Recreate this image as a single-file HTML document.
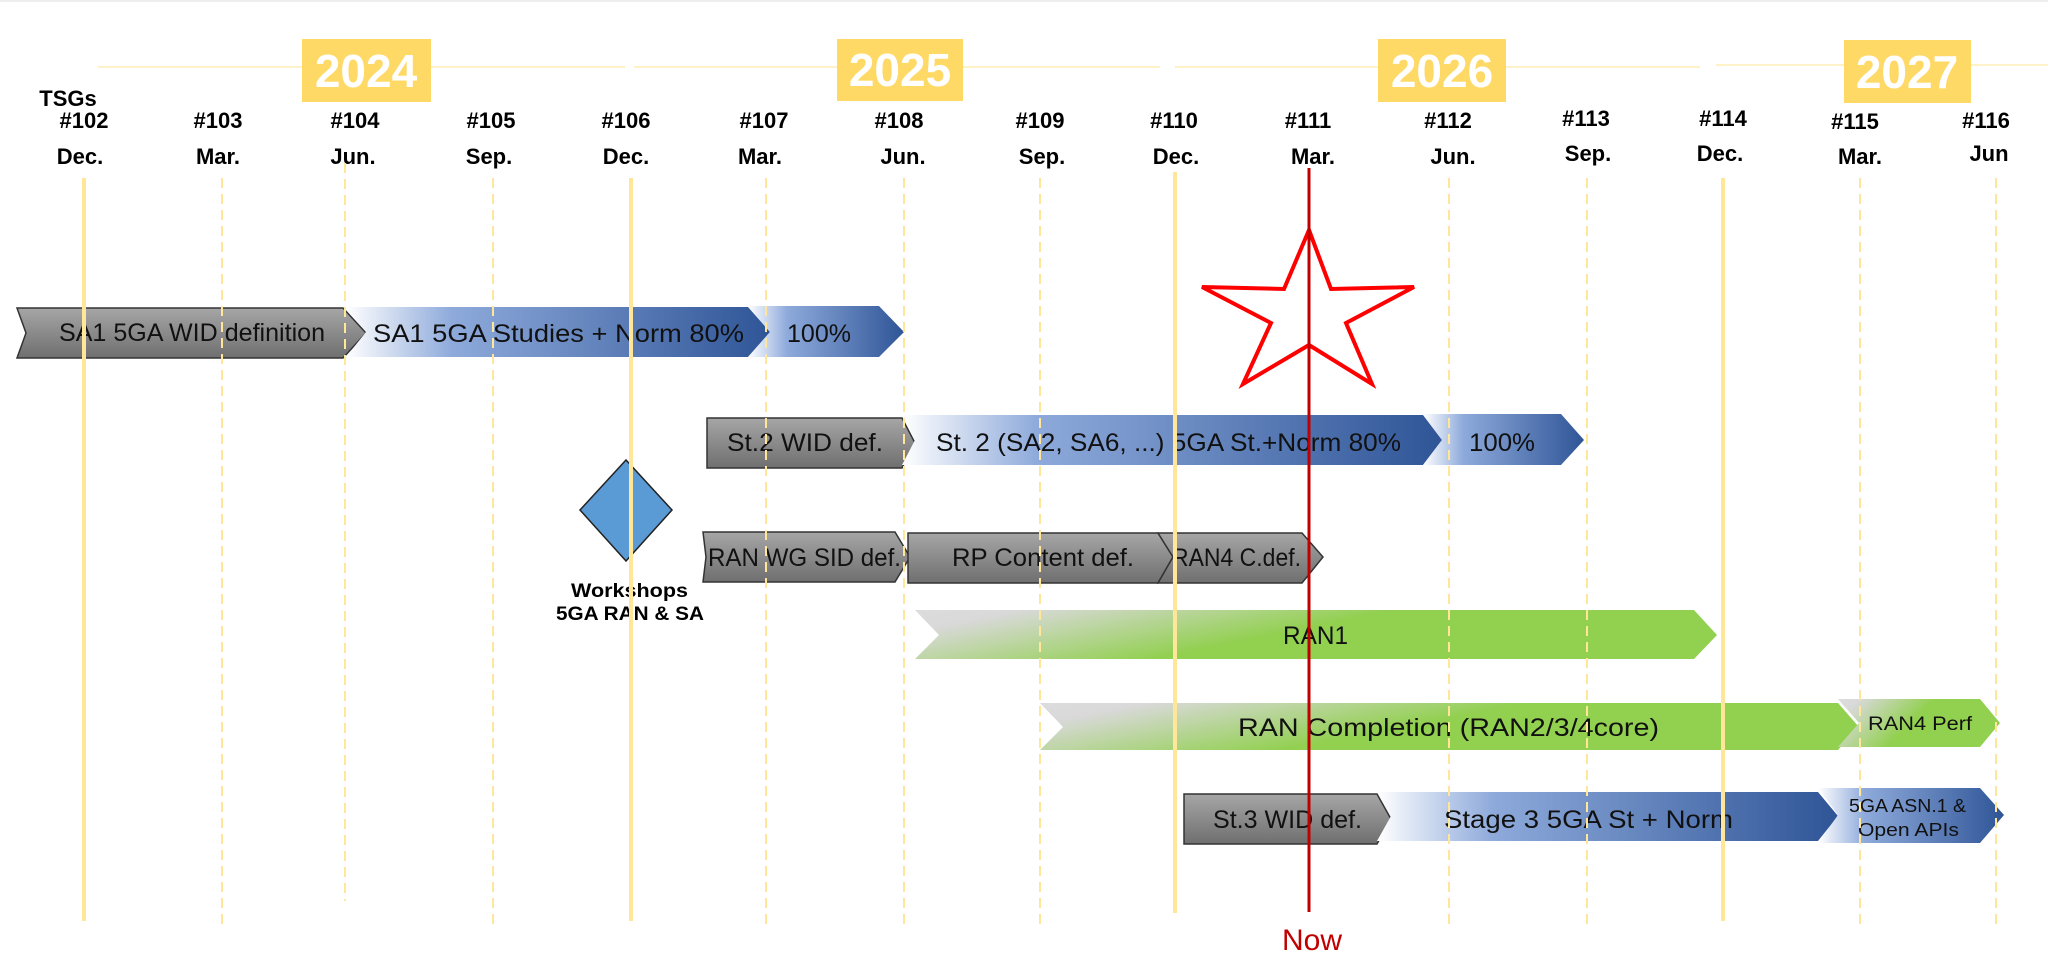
<!DOCTYPE html>
<html><head><meta charset="utf-8"><style>
html,body{margin:0;padding:0;background:#fff;}
svg{display:block;}
text{font-family:"Liberation Sans",sans-serif;}
</style></head><body>
<svg width="2048" height="954" viewBox="0 0 2048 954" xmlns="http://www.w3.org/2000/svg">
<defs>
<linearGradient id="gray" x1="0" y1="0" x2="0" y2="1"><stop offset="0" stop-color="#a6a6a6"/><stop offset="1" stop-color="#6f6f6f"/></linearGradient>
<linearGradient id="blue" x1="0" y1="0" x2="1" y2="0"><stop offset="0" stop-color="#ffffff"/><stop offset="0.25" stop-color="#8eaadb"/><stop offset="1" stop-color="#2f5597"/></linearGradient>
<linearGradient id="green" x1="0" y1="0" x2="1" y2="0.3"><stop offset="0" stop-color="#dcdcdc"/><stop offset="0.12" stop-color="#d9d9d9"/><stop offset="0.55" stop-color="#92d050"/><stop offset="1" stop-color="#92d050"/></linearGradient>
</defs>
<rect width="2048" height="954" fill="#fff"/>
<line x1="0" y1="1" x2="2048" y2="1" stroke="#eee" stroke-width="2"/>
<g stroke="#fff2c8" stroke-width="2">
<line x1="98" y1="67" x2="625" y2="67"/><line x1="634" y1="67" x2="1160" y2="67"/><line x1="1175" y1="67" x2="1700" y2="67"/><line x1="1716" y1="65" x2="2048" y2="65"/>
</g>
<g fill="#ffd966">
<rect x="302" y="39" width="129" height="63"/><rect x="837" y="39" width="126" height="62"/><rect x="1378" y="39" width="128" height="63"/><rect x="1844" y="40" width="127" height="63"/>
</g>
<g fill="#fff" font-weight="bold" font-size="46" text-anchor="middle">
<text x="366" y="87">2024</text><text x="900" y="86">2025</text><text x="1442" y="87">2026</text><text x="1907" y="88">2027</text>
</g>
<g font-weight="bold" font-size="22" text-anchor="middle" fill="#000">
<text x="68" y="106">TSGs</text>
<text x="84" y="128">#102</text><text x="218" y="128">#103</text><text x="355" y="128">#104</text><text x="491" y="128">#105</text><text x="626" y="128">#106</text><text x="764" y="128">#107</text><text x="899" y="128">#108</text><text x="1040" y="128">#109</text><text x="1174" y="128">#110</text><text x="1308" y="128">#111</text><text x="1448" y="128">#112</text><text x="1586" y="126">#113</text><text x="1723" y="126">#114</text><text x="1855" y="129">#115</text><text x="1986" y="128">#116</text>
<text x="80" y="164">Dec.</text><text x="218" y="164">Mar.</text><text x="353" y="164">Jun.</text><text x="489" y="164">Sep.</text><text x="626" y="164">Dec.</text><text x="760" y="164">Mar.</text><text x="903" y="164">Jun.</text><text x="1042" y="164">Sep.</text><text x="1176" y="164">Dec.</text><text x="1313" y="164">Mar.</text><text x="1453" y="164">Jun.</text><text x="1588" y="161">Sep.</text><text x="1720" y="161">Dec.</text><text x="1860" y="164">Mar.</text><text x="1989" y="161">Jun</text>
</g>
<polygon points="1309,230 1331,289 1414,287 1346,323 1372,384 1309,345 1243,384 1271,323 1202,287 1284,289" fill="none" stroke="#f00" stroke-width="4"/>
<polygon points="626,460 672,510 626,561 580,510" fill="#5b9bd5" stroke="#222" stroke-width="1.5"/>
<g font-weight="bold" font-size="19"><text x="571" y="597" textLength="117" lengthAdjust="spacingAndGlyphs">Workshops</text><text x="556" y="620" textLength="148" lengthAdjust="spacingAndGlyphs">5GA RAN &amp; SA</text></g>
<polygon points="17,308 343,308 366,333 343,358 17,358 26,333" fill="url(#gray)" stroke="#333" stroke-width="1.5"/>
<polygon points="346,307 748,307 770,332 748,357 346,357 366,332" fill="url(#blue)"/>
<polygon points="748,306 879,306 904,332 879,357 748,357 770,332" fill="url(#blue)"/>
<polygon points="707,418 902,418 915,443 902,468 707,468" fill="url(#gray)" stroke="#333" stroke-width="1.5"/>
<polygon points="902,415 1423,415 1442,440 1423,465 902,465 915,440" fill="url(#blue)"/>
<polygon points="1423,414 1561,414 1584,440 1561,465 1423,465 1442,440" fill="url(#blue)"/>
<polygon points="703,532 895,532 910,557 895,582 703,582 706,557" fill="url(#gray)" stroke="#333" stroke-width="1.5"/>
<polygon points="908,533 1158,533 1173,557 1158,583 908,583" fill="url(#gray)" stroke="#333" stroke-width="1.5"/>
<polygon points="1158,533 1302,533 1323,557 1302,583 1158,583 1173,557" fill="url(#gray)" stroke="#333" stroke-width="1.5"/>
<polygon points="915,610 1694,610 1717,635 1694,659 915,659 939,635" fill="url(#green)"/>
<polygon points="1040,703 1838,703 1859,727 1838,750 1040,750 1063,727" fill="url(#green)"/>
<polygon points="1838,699 1980,699 2000,723 1980,747 1838,747 1859,723" fill="url(#green)"/>
<polygon points="1184,794 1377,794 1391,819 1377,844 1184,844" fill="url(#gray)" stroke="#333" stroke-width="1.5"/>
<polygon points="1377,792 1818,792 1838,816 1818,841 1377,841 1391,816" fill="url(#blue)"/>
<polygon points="1818,788 1980,788 2004,815 1980,843 1818,843 1838,815" fill="url(#blue)"/>
<g font-size="25" fill="#111" lengthAdjust="spacingAndGlyphs">
<text x="59" y="341" textLength="266" lengthAdjust="spacingAndGlyphs">SA1 5GA WID definition</text>
<text x="373" y="342" textLength="371" lengthAdjust="spacingAndGlyphs">SA1 5GA Studies + Norm 80%</text>
<text x="787" y="342" textLength="64" lengthAdjust="spacingAndGlyphs">100%</text>
<text x="727" y="451" textLength="156" lengthAdjust="spacingAndGlyphs">St.2 WID def.</text>
<text x="936" y="451" textLength="465" lengthAdjust="spacingAndGlyphs">St. 2 (SA2, SA6, ...) 5GA St.+Norm 80%</text>
<text x="1469" y="451" textLength="66" lengthAdjust="spacingAndGlyphs">100%</text>
<text x="708" y="566" textLength="193" lengthAdjust="spacingAndGlyphs">RAN WG SID def.</text>
<text x="952" y="566" textLength="182" lengthAdjust="spacingAndGlyphs">RP Content def.</text>
<text x="1172" y="566" textLength="129" lengthAdjust="spacingAndGlyphs">RAN4 C.def.</text>
<text x="1283" y="644" textLength="65" lengthAdjust="spacingAndGlyphs">RAN1</text>
<text x="1238" y="736" textLength="421" lengthAdjust="spacingAndGlyphs">RAN Completion (RAN2/3/4core)</text>
<text x="1868" y="730" font-size="19" textLength="104" lengthAdjust="spacingAndGlyphs">RAN4 Perf</text>
<text x="1213" y="828" textLength="149" lengthAdjust="spacingAndGlyphs">St.3 WID def.</text>
<text x="1444" y="828" textLength="289" lengthAdjust="spacingAndGlyphs">Stage 3 5GA St + Norm</text>
<text x="1849" y="812" font-size="18" textLength="117" lengthAdjust="spacingAndGlyphs">5GA ASN.1 &amp;</text>
<text x="1858" y="836" font-size="18" textLength="101" lengthAdjust="spacingAndGlyphs">Open APIs</text>
</g>
<g stroke="#ffe699" stroke-width="4">
<line x1="84" y1="178" x2="84" y2="921"/><line x1="631" y1="178" x2="631" y2="921"/><line x1="1175" y1="172" x2="1175" y2="913"/><line x1="1723" y1="178" x2="1723" y2="921"/>
</g>
<g stroke="#ffe699" stroke-width="2" stroke-dasharray="10,6">
<line x1="222" y1="178" x2="222" y2="926"/><line x1="345" y1="163" x2="345" y2="901"/><line x1="493" y1="178" x2="493" y2="926"/><line x1="766" y1="178" x2="766" y2="926"/><line x1="904" y1="178" x2="904" y2="926"/><line x1="1040" y1="178" x2="1040" y2="926"/><line x1="1449" y1="178" x2="1449" y2="926"/><line x1="1587" y1="178" x2="1587" y2="926"/><line x1="1860" y1="178" x2="1860" y2="926"/><line x1="1996" y1="178" x2="1996" y2="926"/>
</g>
<line x1="1309" y1="168" x2="1309" y2="912" stroke="#c00000" stroke-width="3"/>
<text x="1312" y="950" text-anchor="middle" font-size="30" fill="#c00000">Now</text>
</svg>
</body></html>
